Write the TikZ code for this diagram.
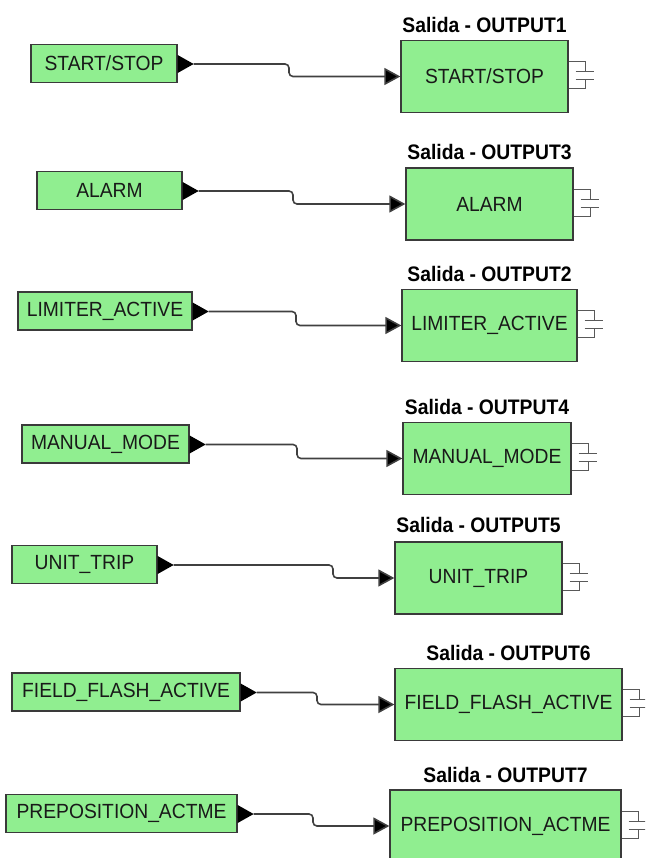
\documentclass[tikz,border=0pt]{standalone}
\usepackage{fontspec}
\setmainfont{Liberation Sans}
\newfontfamily\boxfam{Liberation Sans}[FakeStretch=0.94]
\newfontfamily\titlefam{Liberation Sans Bold}[FakeStretch=0.92]
\usetikzlibrary{calc,arrows.meta}
\definecolor{boxgreen}{HTML}{90EE90}
\definecolor{boxedge}{HTML}{3A3A3A}
\definecolor{wirecol}{HTML}{404040}
\newcommand\mytitlefont{\titlefam\fontsize{21}{24}\selectfont}
\newcommand\myboxfont{\boxfam\fontsize{20.5}{24}\selectfont}
\tikzset{
  inbox/.style={draw=boxedge, line width=1.3pt, fill=boxgreen, minimum height=38pt, inner sep=0pt,
    font=\myboxfont, text=black!90},
  outbox/.style={draw=boxedge, line width=1.3pt, fill=boxgreen, minimum height=72pt, inner sep=0pt,
    font=\myboxfont, text=black!90},
  titletext/.style={font=\mytitlefont, inner sep=0pt, text=black},
  wire/.style={draw=wirecol, line width=1.6pt, rounded corners=4pt, -{Triangle[length=16pt,width=17pt,fill=black]}},
  tri/.style={fill=black},
  iconline/.style={draw=black!65, line width=1pt},
  plug/.pic={
    \draw[iconline] (0,22) -- (17,22) -- (17,32);
    \draw[iconline] (7,32) -- (25,32);
    \draw[iconline] (7,40) -- (25,40);
    \draw[iconline] (17,40) -- (17,49) -- (0,49);
  }
}
\begin{document}
\begin{tikzpicture}[x=1pt,y=-1pt]
\useasboundingbox (0,0) rectangle (645,858);
\clip (0,0) rectangle (645,858);

% Input nodes
\node[inbox, minimum width=146pt] (i1) at (104,63.5) {START/STOP};
\node[inbox, minimum width=145pt] (i2) at (109.5,190.5) {ALARM};
\node[inbox, minimum width=174pt] (i3) at (105,311) {LIMITER\_ACTIVE};
\node[inbox, minimum width=167pt] (i4) at (105.5,444) {MANUAL\_MODE};
\node[inbox, minimum width=145pt] (i5) at (84.5,564.5) {UNIT\_TRIP};
\node[inbox, minimum width=228pt] (i6) at (126,692) {FIELD\_FLASH\_ACTIVE};
\node[inbox, minimum width=231pt] (i7) at (121.5,813.5) {PREPOSITION\_ACTME};

% Output nodes
\node[outbox, minimum width=167pt] (o1) at (484.5,76.5) {START/STOP};
\node[outbox, minimum width=167pt] (o2) at (489.5,204) {ALARM};
\node[outbox, minimum width=175pt] (o3) at (489.5,325.5) {LIMITER\_ACTIVE};
\node[outbox, minimum width=168pt] (o4) at (487,458.5) {MANUAL\_MODE};
\node[outbox, minimum width=167pt] (o5) at (478.5,578) {UNIT\_TRIP};
\node[outbox, minimum width=227pt] (o6) at (508.5,704.5) {FIELD\_FLASH\_ACTIVE};
\node[outbox, minimum width=231pt] (o7) at (505.5,826) {PREPOSITION\_ACTME};

% Titles
\node[titletext] (s1) at ($(o1.north)+(0,-15)$) {Salida - OUTPUT1};
\node[titletext] (s2) at ($(o2.north)+(0,-15)$) {Salida - OUTPUT3};
\node[titletext] (s3) at ($(o3.north)+(0,-14.5)$) {Salida - OUTPUT2};
\node[titletext] (s4) at ($(o4.north)+(0,-15)$) {Salida - OUTPUT4};
\node[titletext] (s5) at ($(o5.north)+(0,-16.5)$) {Salida - OUTPUT5};
\node[titletext] (s6) at ($(o6.north)+(0,-14.5)$) {Salida - OUTPUT6};
\node[titletext] (s7) at ($(o7.north)+(0,-14.5)$) {Salida - OUTPUT7};

% Plug icons
\foreach \o in {o1,o2,o3,o4,o5,o6,o7}{
  \pic at (\o.north east) {plug};
}

% Output triangles and wires
\foreach \k/\jx in {1/289,2/293,3/296,4/297,5/333,6/317,7/313}{
  \coordinate (t\k) at ($(i\k.east)+(16,0.5)$);
  \fill[tri] ($(i\k.east)+(0,-8.5)$) -- (t\k) -- ($(i\k.east)+(0,9.5)$) -- cycle;
  \coordinate (j\k) at (o\k.west -| \jx,0);
  \draw[wire] (t\k) -| (j\k) -- (o\k.west);
}
\end{tikzpicture}
\end{document}
